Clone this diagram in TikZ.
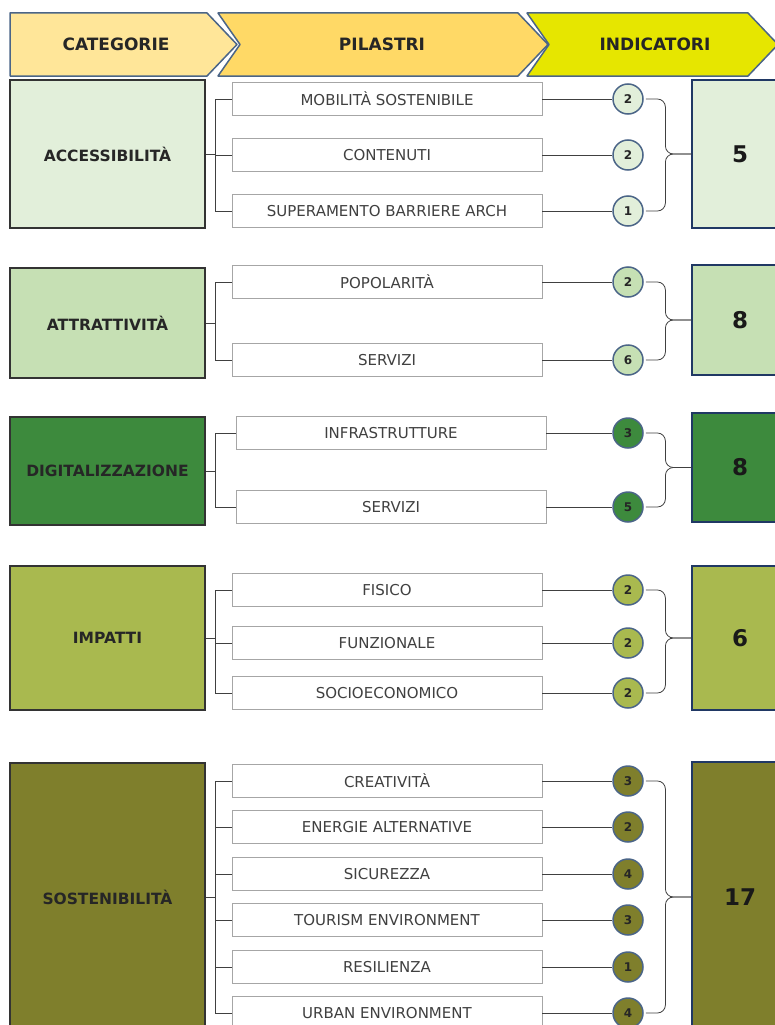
\documentclass[tikz,border=0pt]{standalone}
\usepackage{fontspec}
\setmainfont{DejaVu Sans}
\definecolor{catfill}{HTML}{FFE699}
\definecolor{pilfill}{HTML}{FFD966}
\definecolor{indfill}{HTML}{E6E600}
\definecolor{accfill}{HTML}{E2EFDA}
\definecolor{attfill}{HTML}{C6E0B4}
\definecolor{digfill}{HTML}{3D8A3D}
\definecolor{impfill}{HTML}{A9B94F}
\definecolor{sosfill}{HTML}{7F7F2C}
\definecolor{bordo}{HTML}{4B6587}
\definecolor{navy}{HTML}{203864}
\tikzset{
  freccia/.style={draw=bordo, line width=1.5pt, line join=round},
  titolo/.style={font=\bfseries\fontsize{17}{19}\selectfont, text=black!85},
  cat/.style={draw=black!80, line width=1.2pt, minimum width=195pt, font=\bfseries\fontsize{15.5}{17}\selectfont, text=black!85},
  pil/.style={draw=black!35, line width=0.8pt, fill=white, minimum width=310pt, minimum height=33pt, font=\fontsize{15}{17}\selectfont, text=black!75},
  num/.style={circle, draw=bordo, line width=1.5pt, minimum size=30pt, inner sep=0pt, font=\bfseries\fontsize{12}{12}\selectfont, text=black!85},
  ind/.style={draw=navy, line width=1.2pt, minimum width=96pt, font=\bfseries\fontsize{23}{23}\selectfont, text=black!90},
  link/.style={draw=black!75, line width=0.8pt},
  graffa/.style={draw=black!75, line width=0.8pt, rounded corners=8pt},
}
\begin{document}
\begin{tikzpicture}[x=1pt,y=-1pt]
\useasboundingbox (0,0) rectangle (775,1025);
\clip (0,0) rectangle (775,1025);
% intestazione
\draw[freccia, fill=catfill] (10,13) -- (207,13) -- (237,44.5) -- (207,76) -- (10,76) -- cycle;
\draw[freccia, fill=pilfill] (218,13) -- (518,13) -- (548,44.5) -- (518,76) -- (218,76) -- (240,44.5) -- cycle;
\draw[freccia, fill=indfill] (527,13) -- (748,13) -- (778,44.5) -- (748,76) -- (527,76) -- (549,44.5) -- cycle;
\node[titolo] (tcat) at (116,44.5) {CATEGORIE};
\node[titolo] (tpil) at (382,44.5) {PILASTRI};
\node[titolo] (tind) at (655,44.5) {INDICATORI};

% accessibilita
\node[cat, fill=accfill, minimum height=148pt] (acc) at (107.5,154) {ACCESSIBILITÀ};
\node[pil] (p11) at (387,99) {MOBILITÀ SOSTENIBILE};
\node[pil] (p12) at (387,155) {CONTENUTI};
\node[pil] (p13) at (387,211) {SUPERAMENTO BARRIERE ARCH};
\node[num, fill=accfill] (n11) at (628,99) {2};
\node[num, fill=accfill] (n12) at (628,155) {2};
\node[num, fill=accfill] (n13) at (628,211) {1};
\node[ind, fill=accfill, minimum height=148pt] (i1) at (740,154) {5};
\draw[link] (acc.east) -- ++(10,0) |- (p11.west);
\draw[link] (acc.east) -- ++(10,0) |- (p12.west);
\draw[link] (acc.east) -- ++(10,0) |- (p13.west);
\draw[link] (p11.east) -- (n11.west);
\draw[link] (p12.east) -- (n12.west);
\draw[link] (p13.east) -- (n13.west);
\draw[graffa] ([xshift=2pt]n11.east) -| ([xshift=-26pt]i1.west) -- (i1.west);
\draw[graffa] ([xshift=2pt]n13.east) -| ([xshift=-26pt]i1.west) -- (i1.west);

% attrattivita
\node[cat, fill=attfill, minimum height=110pt] (att) at (107.5,323) {ATTRATTIVITÀ};
\node[pil] (p21) at (387,282) {POPOLARITÀ};
\node[pil] (p22) at (387,360) {SERVIZI};
\node[num, fill=attfill] (n21) at (628,282) {2};
\node[num, fill=attfill] (n22) at (628,360) {6};
\node[ind, fill=attfill, minimum height=110pt] (i2) at (740,320) {8};
\draw[link] (att.east) -- ++(10,0) |- (p21.west);
\draw[link] (att.east) -- ++(10,0) |- (p22.west);
\draw[link] (p21.east) -- (n21.west);
\draw[link] (p22.east) -- (n22.west);
\draw[graffa] ([xshift=2pt]n21.east) -| ([xshift=-26pt]i2.west) -- (i2.west);
\draw[graffa] ([xshift=2pt]n22.east) -| ([xshift=-26pt]i2.west) -- (i2.west);

% digitalizzazione
\node[cat, fill=digfill, minimum height=108pt] (dig) at (107.5,471) {DIGITALIZZAZIONE};
\node[pil] (p31) at (391,433) {INFRASTRUTTURE};
\node[pil] (p32) at (391,507) {SERVIZI};
\node[num, fill=digfill] (n31) at (628,433) {3};
\node[num, fill=digfill] (n32) at (628,507) {5};
\node[ind, fill=digfill, minimum height=109pt] (i3) at (740,467.5) {8};
\draw[link] (dig.east) -- ++(10,0) |- (p31.west);
\draw[link] (dig.east) -- ++(10,0) |- (p32.west);
\draw[link] (p31.east) -- (n31.west);
\draw[link] (p32.east) -- (n32.west);
\draw[graffa] ([xshift=2pt]n31.east) -| ([xshift=-26pt]i3.west) -- (i3.west);
\draw[graffa] ([xshift=2pt]n32.east) -| ([xshift=-26pt]i3.west) -- (i3.west);

% impatti
\node[cat, fill=impfill, minimum height=144pt] (imp) at (107.5,638) {IMPATTI};
\node[pil] (p41) at (387,590) {FISICO};
\node[pil] (p42) at (387,643) {FUNZIONALE};
\node[pil] (p43) at (387,693) {SOCIOECONOMICO};
\node[num, fill=impfill] (n41) at (628,590) {2};
\node[num, fill=impfill] (n42) at (628,643) {2};
\node[num, fill=impfill] (n43) at (628,693) {2};
\node[ind, fill=impfill, minimum height=144pt] (i4) at (740,638) {6};
\draw[link] (imp.east) -- ++(10,0) |- (p41.west);
\draw[link] (imp.east) -- ++(10,0) |- (p42.west);
\draw[link] (imp.east) -- ++(10,0) |- (p43.west);
\draw[link] (p41.east) -- (n41.west);
\draw[link] (p42.east) -- (n42.west);
\draw[link] (p43.east) -- (n43.west);
\draw[graffa] ([xshift=2pt]n41.east) -| ([xshift=-26pt]i4.west) -- (i4.west);
\draw[graffa] ([xshift=2pt]n43.east) -| ([xshift=-26pt]i4.west) -- (i4.west);

% sostenibilita
\node[cat, fill=sosfill, minimum height=268pt] (sos) at (107.5,897) {SOSTENIBILITÀ};
\node[pil] (p51) at (387,781) {CREATIVITÀ};
\node[pil] (p52) at (387,827) {ENERGIE ALTERNATIVE};
\node[pil] (p53) at (387,874) {SICUREZZA};
\node[pil] (p54) at (387,920) {TOURISM ENVIRONMENT};
\node[pil] (p55) at (387,967) {RESILIENZA};
\node[pil] (p56) at (387,1013) {URBAN ENVIRONMENT};
\node[num, fill=sosfill] (n51) at (628,781) {3};
\node[num, fill=sosfill] (n52) at (628,827) {2};
\node[num, fill=sosfill] (n53) at (628,874) {4};
\node[num, fill=sosfill] (n54) at (628,920) {3};
\node[num, fill=sosfill] (n55) at (628,967) {1};
\node[num, fill=sosfill] (n56) at (628,1013) {4};
\node[ind, fill=sosfill, minimum height=270pt] (i5) at (740,897) {17};
\draw[link] (sos.east) -- ++(10,0) |- (p51.west);
\draw[link] (sos.east) -- ++(10,0) |- (p52.west);
\draw[link] (sos.east) -- ++(10,0) |- (p53.west);
\draw[link] (sos.east) -- ++(10,0) |- (p54.west);
\draw[link] (sos.east) -- ++(10,0) |- (p55.west);
\draw[link] (sos.east) -- ++(10,0) |- (p56.west);
\draw[link] (p51.east) -- (n51.west);
\draw[link] (p52.east) -- (n52.west);
\draw[link] (p53.east) -- (n53.west);
\draw[link] (p54.east) -- (n54.west);
\draw[link] (p55.east) -- (n55.west);
\draw[link] (p56.east) -- (n56.west);
\draw[graffa] ([xshift=2pt]n51.east) -| ([xshift=-26pt]i5.west) -- (i5.west);
\draw[graffa] ([xshift=2pt]n56.east) -| ([xshift=-26pt]i5.west) -- (i5.west);
\end{tikzpicture}
\end{document}
